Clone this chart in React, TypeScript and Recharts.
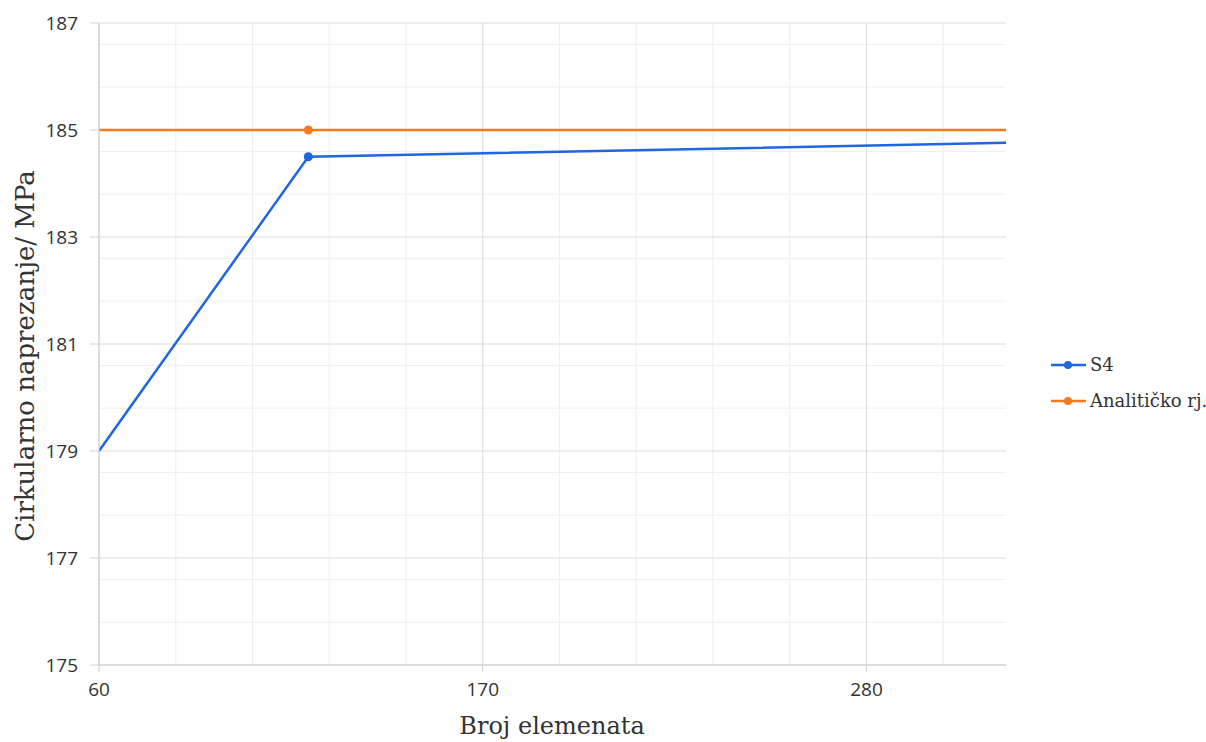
import { LineChart, Line, XAxis, YAxis, CartesianGrid } from "recharts";

const brojElemenata = [60, 120, 320];
const s4 = [179, 184.5, 184.76];
const analiticko = [185, 185, 185];

const xTicks = [60, 170, 280];
const xMinor = [82, 104, 126, 148, 192, 214, 236, 258, 302];
const yTicks = [175, 177, 179, 181, 183, 185, 187];
const yMinor = [
  175.4, 175.8, 176.2, 176.6, 177.4, 177.8, 178.2, 178.6, 179.4, 179.8, 180.2, 180.6,
  181.4, 181.8, 182.2, 182.6, 183.4, 183.8, 184.2, 184.6, 185.4, 185.8, 186.2, 186.6,
];

const BLUE = "#1f66e0";
const ORANGE = "#f47a1f";

const data = brojElemenata.map((x, i) => ({ x, s4: s4[i], an: analiticko[i] }));

const W = 1206;
const H = 742;
const SERIF = "'DejaVu Serif', serif";
const SANS = "'Open Sans', sans-serif";

// only the middle point carries a marker in the original
const midDot = (color: string) => (props: any) => {
  if (props.index !== 1) return <g key={props.index} />;
  return <circle key={props.index} cx={props.cx} cy={props.cy} r={4.5} fill={color} />;
};

const legendItems = [
  { name: "S4", color: BLUE },
  { name: "Analitičko rj.", color: ORANGE },
];

export default function App() {
  return (
    <div style={{ position: "absolute", left: 0, top: 0, width: W, height: H, background: "#fff" }}>
      <LineChart width={W} height={H} data={data} margin={{ top: 23, right: 200, bottom: 0, left: 0 }}>
        <CartesianGrid
          stroke="#efefef"
          verticalValues={xMinor}
          horizontalValues={yMinor}
        />
        <CartesianGrid stroke="#dcdcdc" verticalValues={xTicks} horizontalValues={yTicks} />
        <XAxis
          dataKey="x"
          type="number"
          domain={[60, 320]}
          ticks={xTicks}
          allowDataOverflow
          axisLine={{ stroke: "#cfcfcf" }}
          tickLine={{ stroke: "#cfcfcf" }}
          tickSize={7}
          tickMargin={11}
          height={77}
          tick={{ fill: "#333", fontSize: 19, fontFamily: SANS }}
        />
        <YAxis
          type="number"
          domain={[175, 187]}
          ticks={yTicks}
          allowDataOverflow
          width={99}
          axisLine={{ stroke: "#cfcfcf" }}
          tickLine={{ stroke: "#cfcfcf" }}
          tickSize={9}
          tickMargin={12}
          tick={{ fill: "#333", fontSize: 19, fontFamily: SANS }}
        />
        <Line
          dataKey="an"
          type="linear"
          stroke={ORANGE}
          strokeWidth={2.5}
          dot={midDot(ORANGE)}
          activeDot={false}
          isAnimationActive={false}
        />
        <Line
          dataKey="s4"
          type="linear"
          stroke={BLUE}
          strokeWidth={2.5}
          dot={midDot(BLUE)}
          activeDot={false}
          isAnimationActive={false}
        />
        <text x={552} y={734} textAnchor="middle" fontFamily={SERIF} fontSize={24} fill="#333">
          Broj elemenata
        </text>
        <text
          x={34}
          y={356}
          textAnchor="middle"
          fontFamily={SERIF}
          fontSize={26}
          fill="#333"
          transform="rotate(-90 34 356)"
        >
          Cirkularno naprezanje/ MPa
        </text>
        {legendItems.map((it, i) => {
          const y = 365 + i * 36;
          return (
            <g key={it.name}>
              <line x1={1051} x2={1086} y1={y} y2={y} stroke={it.color} strokeWidth={2.5} />
              <circle cx={1068} cy={y} r={4} fill={it.color} />
              <text x={1090} y={y + 6} fontFamily={SERIF} fontSize={18} fill="#333">
                {it.name}
              </text>
            </g>
          );
        })}
      </LineChart>
    </div>
  );
}
